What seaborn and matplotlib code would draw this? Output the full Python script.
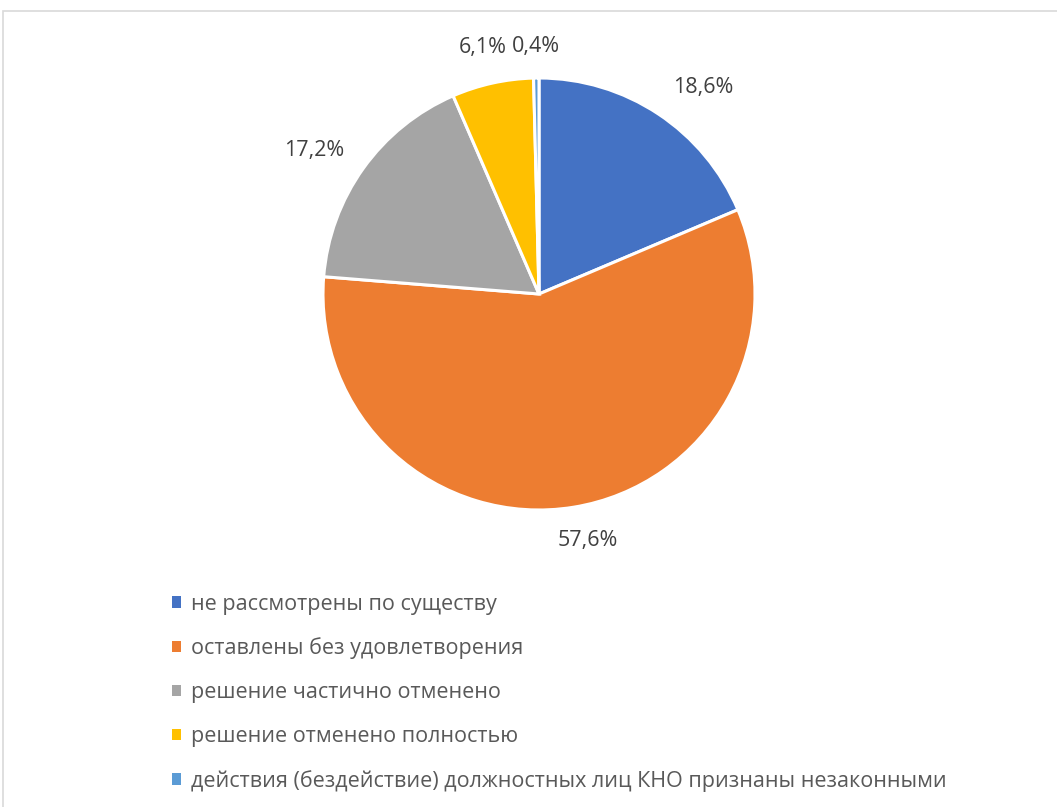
import numpy as np
import matplotlib
matplotlib.use("Agg")
import matplotlib.pyplot as plt
from matplotlib.patches import Rectangle
import seaborn as sns

# Outcomes of complaints, shares in percent
categories = [
    "не рассмотрены по существу",
    "оставлены без удовлетворения",
    "решение частично отменено",
    "решение отменено полностью",
    "действия (бездействие) должностных лиц КНО признаны незаконными",
]
shares = [18.6, 57.6, 17.2, 6.1, 0.4]
share_labels = ["18,6%", "57,6%", "17,2%", "6,1%", "0,4%"]

sns.set_theme(style="white")
plt.rcParams["font.family"] = ["Open Sans", "DejaVu Sans"]
palette = sns.color_palette(["#4472C4", "#ED7D31", "#A5A5A5", "#FFC000", "#5B9BD5"])

W, H = 1057, 807
fig = plt.figure(figsize=(W / 100, H / 100), dpi=100)
fig.patch.set_facecolor("white")

# Chart area frame
fig.patches.append(Rectangle((3 / W, -0.01), 1.05, (H - 11) / H + 0.01,
                             transform=fig.transFigure, fill=False,
                             edgecolor="#D9D9D9", linewidth=1.2, zorder=0))

ax = fig.add_axes([0, 0, 1, 1])
cx, cy, R = 539, H - 294, 216
wedges, _ = ax.pie(shares, colors=palette, startangle=90, counterclock=False,
                   center=(cx, cy), radius=R, frame=True,
                   wedgeprops=dict(edgecolor="white", linewidth=2.2))
ax.set_xlim(0, W)
ax.set_ylim(0, H)
ax.set_aspect("equal")
ax.axis("off")

# Percentage labels outside each slice
label_dist = [1.22, 1.165, 1.235, 1.17, 1.145]
angle_nudge = [-5, 2, 3, 0.5, 0]
for w, txt, d, dn in zip(wedges, share_labels, label_dist, angle_nudge):
    ang = np.deg2rad((w.theta1 + w.theta2) / 2 + dn)
    ax.text(cx + d * R * np.cos(ang), cy + d * R * np.sin(ang), txt,
            ha="center", va="center", fontsize=15.5, color="#404040")

leg = ax.legend(wedges, categories, loc="upper left",
                bbox_to_anchor=(163 / W, 1 - 585 / H),
                bbox_transform=fig.transFigure, frameon=False,
                fontsize=15.5, labelcolor="#595959",
                handlelength=0.42, handleheight=0.42, handletextpad=0.5,
                labelspacing=1.06, borderaxespad=0)
for h in leg.legend_handles:
    h.set_edgecolor("none")

fig.savefig("out.png", dpi=100, facecolor="white")
